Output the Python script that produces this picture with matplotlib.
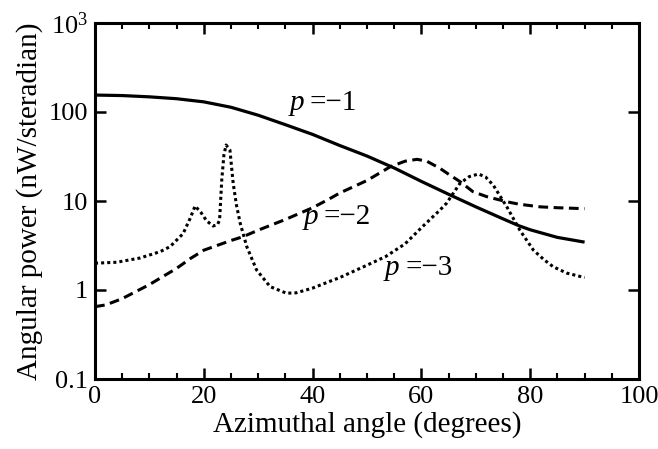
import matplotlib
matplotlib.use("Agg")
import matplotlib.pyplot as plt
from matplotlib.ticker import FixedLocator, MultipleLocator, FixedFormatter

plt.rcParams["font.family"] = ["Liberation Serif", "DejaVu Serif"]
plt.rcParams["mathtext.fontset"] = "custom"
plt.rcParams["mathtext.rm"] = "Liberation Serif"
plt.rcParams["mathtext.it"] = "Liberation Serif:italic"

# p = -1 (solid)
angle_p1 = [0, 5, 10, 15, 20, 25, 30, 35, 40, 45, 50, 55, 60, 65, 70, 75, 78, 80, 85, 90]
power_p1 = [155, 153, 148, 141, 130, 113, 92, 72, 56, 42, 32, 23.5, 16.6, 11.9, 8.6, 6.3, 5.25, 4.75, 3.9, 3.45]

# p = -2 (dashed)
angle_p2 = [0, 2, 5, 10, 15, 17.5, 20, 25, 27.2, 30, 35, 40, 43, 45, 50, 54.3, 57, 59.2, 61,
            63.4, 65, 67.1, 69.5, 72, 75.7, 78, 81.8, 85, 90]
power_p2 = [0.65, 0.68, 0.8, 1.15, 1.75, 2.25, 2.8, 3.6, 3.97, 4.7, 6.2, 8.4, 10.5, 12.3, 17, 24.3, 28, 29.4, 28,
            23.3, 20, 16.5, 12.7, 11.2, 9.8, 9.2, 8.6, 8.4, 8.2]

# p = -3 (dotted)
angle_p3 = [0, 4, 8.3, 12, 13.8, 16.2, 17.5, 18.4, 19.5, 20.5, 21.7, 22.5, 22.9, 23.3, 23.7, 24.1, 24.8,
            25.4, 26.0, 26.7, 27.9, 29.7, 32.2, 35.2, 37, 40, 43, 45, 50, 53.4, 57, 60.2, 63.4, 64.6,
            67.1, 68.8, 70.5, 71.8, 73.2, 75.7, 78.1, 80.6, 82.5, 84.2, 86.7, 90]
power_p3 = [2.0, 2.05, 2.29, 2.7, 3.07, 4.3, 6.4, 8.8, 7.4, 6.0, 5.24, 5.4, 6.1, 17.2, 33, 42.6, 37.4,
            15.8, 9.0, 5.6, 3.07, 1.68, 1.09, 0.92, 0.93, 1.05, 1.24, 1.38, 1.9, 2.37, 3.3, 5.15, 7.9, 9.4,
            15.8, 18.8, 20.1, 18.6, 15.1, 8.6, 4.7, 2.8, 2.2, 1.83, 1.55, 1.38]

curve_values = ["\u22121", "\u22122", "\u22123"]
label_pos = [(35.8, 126), (38.3, 6.6), (53.3, 1.77)]

x_ticks = [0, 20, 40, 60, 80, 100]
y_ticks = [0.1, 1, 10, 100, 1000]
y_tick_labels = ["0.1", "1", "10", "100", r"$10^3$"]

fig = plt.figure(figsize=(6.58, 4.49), dpi=100)
ax = fig.add_axes([95 / 658, 70 / 449, 544 / 658, 356 / 449])

ax.plot(angle_p1, power_p1, color="black", lw=2.3, solid_capstyle="butt")
ax.plot(angle_p2, power_p2, color="black", lw=2.2, linestyle=(0, (3.2, 1.8)), dash_capstyle="butt")
ax.plot(angle_p3, power_p3, color="black", lw=2.2, linestyle=(0, (1, 1)), dash_capstyle="butt")

# curve labels: italic p followed by "=-n"
for val, (lx, ly) in zip(curve_values, label_pos):
    ax.text(lx, ly, "p", fontsize=21, style="italic", ha="left", va="center")
    ax.annotate("=" + val, xy=(lx, ly), xytext=(14.5, 0), textcoords="offset points",
                fontsize=21, ha="left", va="center")

ax.set_yscale("log")
ax.set_xlim(0, 100)
ax.set_ylim(0.1, 1000)

ax.xaxis.set_major_locator(FixedLocator(x_ticks))
ax.xaxis.set_minor_locator(MultipleLocator(5))
ax.yaxis.set_major_locator(FixedLocator(y_ticks))
ax.yaxis.set_major_formatter(FixedFormatter(y_tick_labels))
ax.yaxis.set_minor_locator(FixedLocator([]))

ax.tick_params(which="major", direction="in", length=8, width=1.8, top=True, right=True,
               labelsize=19, pad=5)
ax.tick_params(which="minor", direction="in", length=4.5, width=1.5, top=True, right=True)

for s in ax.spines.values():
    s.set_linewidth(2.2)

ax.set_xlabel("Azimuthal angle (degrees)", fontsize=21, labelpad=2)
ax.set_ylabel("Angular power (nW/steradian)", fontsize=21, labelpad=4)

fig.savefig("out.png", dpi=100)
